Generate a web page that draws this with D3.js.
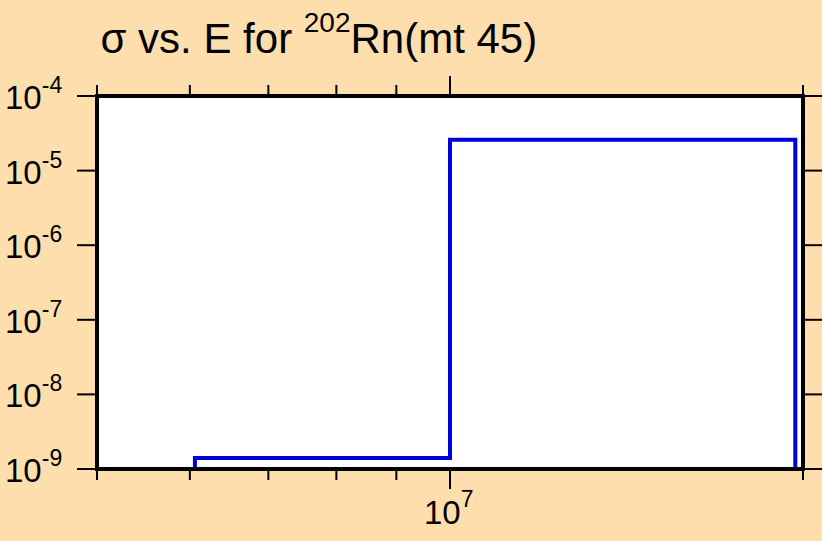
<!DOCTYPE html>
<html><head><meta charset="utf-8">
<script src="https://cdn.jsdelivr.net/npm/d3@7"></script>
<style>html,body{margin:0;padding:0;background:#FFDEAD;}svg{display:block;}</style>
</head><body>
<script>
// Data
const energies = [6.06e6, 6.06e6, 1e7, 1e7, 1.97e7, 1.97e7];
const sigma    = [0, 1.4e-9, 1.4e-9, 2.6e-5, 2.6e-5, 0];
const yTickExps = [-9, -8, -7, -6, -5, -4];
const xMajorExps = [7];
const xMinorTicks = [5e6, 6e6, 7e6, 8e6, 9e6, 2e7];
const titleParts = ["σ vs. E for ", "202", "Rn(mt 45)"];

const W = 822, H = 541;
const L = 97, R = 803, T = 96, B = 469;
const svg = d3.select("body").append("svg").attr("width", W).attr("height", H);
svg.append("rect").attr("width", W).attr("height", H).attr("fill", "#FFDEAD");

const x = d3.scaleLog().domain([5e6, 2e7]).range([L, R]);
const y = d3.scaleLog().domain([1e-9, 1e-4]).range([B, T]).clamp(true);

svg.append("rect").attr("x", L).attr("y", T).attr("width", R - L).attr("height", B - T).attr("fill", "#fff");

const font = "Liberation Sans, Arial, sans-serif";
const tickG = svg.append("g").attr("stroke", "#000").attr("stroke-width", 2);
const MAJ = 20, MIN = 11;
yTickExps.forEach(e => {
  const yy = y(Math.pow(10, e));
  tickG.append("line").attr("x1", L - MAJ).attr("x2", L).attr("y1", yy).attr("y2", yy);
  tickG.append("line").attr("x1", R).attr("x2", R + MAJ).attr("y1", yy).attr("y2", yy);
});
xMinorTicks.forEach(v => {
  const xx = x(v);
  tickG.append("line").attr("x1", xx).attr("x2", xx).attr("y1", B).attr("y2", B + MIN);
  tickG.append("line").attr("x1", xx).attr("x2", xx).attr("y1", T - MIN).attr("y2", T);
});
xMajorExps.forEach(e => {
  const xx = x(Math.pow(10, e));
  tickG.append("line").attr("x1", xx).attr("x2", xx).attr("y1", B).attr("y2", B + MAJ);
  tickG.append("line").attr("x1", xx).attr("x2", xx).attr("y1", T - MAJ).attr("y2", T);
});

const pts = energies.map((e, i) => [e, sigma[i]]);
const line = d3.line().x(d => x(d[0])).y(d => y(d[1]));
svg.append("path").datum(pts).attr("d", line).attr("fill", "none")
  .attr("stroke", "#0000DD").attr("stroke-width", 4).attr("stroke-linejoin", "miter");

svg.append("rect").attr("x", L).attr("y", T).attr("width", R - L).attr("height", B - T)
  .attr("fill", "none").attr("stroke", "#000").attr("stroke-width", 4);

yTickExps.forEach(e => {
  const yy = y(Math.pow(10, e));
  const t = svg.append("text").attr("font-family", font).attr("fill", "#000")
    .attr("x", 5).attr("y", yy + 13);
  t.append("tspan").attr("font-size", 33).text("10");
  t.append("tspan").attr("font-size", 23).attr("dy", -16).text(String(e));
});
xMajorExps.forEach(e => {
  const xx = x(Math.pow(10, e));
  const t = svg.append("text").attr("font-family", font).attr("fill", "#000")
    .attr("x", xx - 26).attr("y", 524);
  t.append("tspan").attr("font-size", 33).text("10");
  t.append("tspan").attr("font-size", 23).attr("dy", -17).text(String(e));
});

const tt = svg.append("text").attr("font-family", font).attr("fill", "#000").attr("x", 100.5).attr("y", 53);
tt.append("tspan").attr("font-size", 42).text(titleParts[0]);
tt.append("tspan").attr("font-size", 28).attr("dy", -21).text(titleParts[1]);
tt.append("tspan").attr("font-size", 42).attr("dy", 21).text(titleParts[2]);
</script>
</body></html>
